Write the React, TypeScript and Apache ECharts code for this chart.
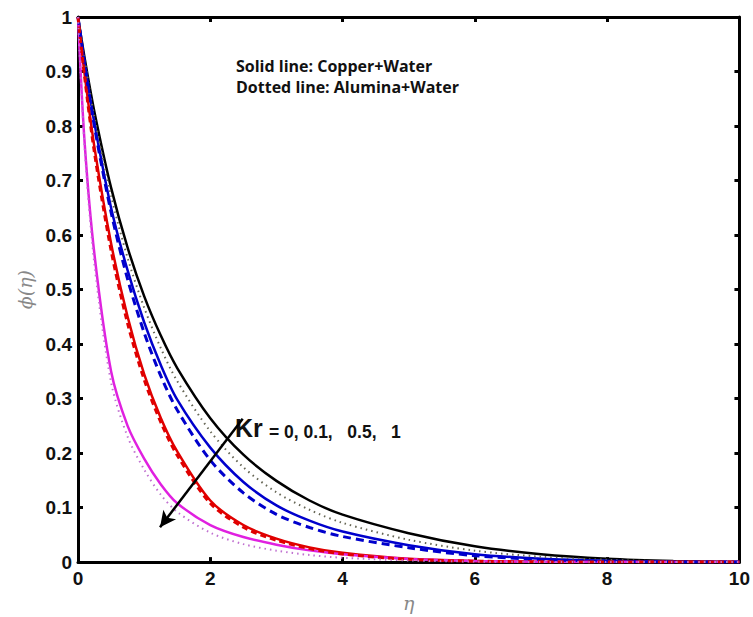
import React, { useEffect, useRef } from "react";
import * as echarts from "echarts";

const eta = [0, 0.1, 0.25, 0.5, 0.75, 1, 1.25, 1.5, 2, 2.5, 3, 3.5, 4, 5, 6, 7, 8, 9, 10];

const cuKr0 = [1, 0.925, 0.825, 0.687, 0.577, 0.488, 0.416, 0.356, 0.264, 0.197, 0.149, 0.113, 0.087, 0.053, 0.029, 0.0144, 0.0062, 0.002, 0];
const alKr0 = [1, 0.922, 0.815, 0.672, 0.558, 0.467, 0.393, 0.332, 0.24, 0.174, 0.128, 0.096, 0.072, 0.041, 0.021, 0.0098, 0.0042, 0.0013, 0];
const cuKr01 = [1, 0.916, 0.804, 0.65, 0.535, 0.44, 0.362, 0.298, 0.21, 0.147, 0.104, 0.076, 0.056, 0.031, 0.0145, 0.0062, 0.0023, 0.0006, 0];
const alKr01 = [1, 0.914, 0.798, 0.642, 0.519, 0.421, 0.342, 0.279, 0.187, 0.127, 0.0875, 0.0635, 0.047, 0.0263, 0.0118, 0.0048, 0.0016, 0.0004, 0];
const cuKr05 = [1, 0.895, 0.76, 0.585, 0.45, 0.345, 0.265, 0.203, 0.113, 0.068, 0.043, 0.027, 0.017, 0.006, 0.002, 0.0007, 0.0002, 0, 0];
const alKr05 = [1, 0.89, 0.75, 0.572, 0.438, 0.335, 0.257, 0.196, 0.108, 0.064, 0.04, 0.025, 0.015, 0.005, 0.0017, 0.0005, 0.0001, 0, 0];
const cuKr1 = [1, 0.77, 0.563, 0.35, 0.25, 0.19, 0.143, 0.108, 0.068, 0.046, 0.032, 0.0215, 0.0145, 0.0059, 0.0022, 0.0007, 0.0002, 0, 0];
const alKr1 = [1, 0.76, 0.545, 0.33, 0.23, 0.17, 0.124, 0.092, 0.054, 0.033, 0.021, 0.013, 0.008, 0.003, 0.001, 0.0003, 0, 0, 0];

const arrowFrom = [2.49, 0.263];
const arrowTo = [1.24, 0.064];

const pairs = (v: number[]) => eta.map((e, i) => [e, v[i]]);

export default function App() {
  const ref = useRef<HTMLDivElement>(null);
  useEffect(() => {
    if (!ref.current) return;
    const chart = echarts.init(ref.current, null, { renderer: "svg" });
    const labelStyle = {
      color: "#111",
      fontFamily: "Liberation Sans, Arial, sans-serif",
      fontWeight: "bold" as const,
      fontSize: 19,
    };
    const axisLine = { show: true, onZero: false, lineStyle: { color: "#000", width: 3 } };
    const axisTick = { show: true, inside: true, length: 5, lineStyle: { color: "#000", width: 3 } };
    const mk = (name: string, data: number[], color: string, type: any, width: number, extra: any = {}) => ({
      name,
      type: "line",
      data: pairs(data),
      smooth: 0.3,
      symbol: "none",
      lineStyle: { color, width, type },
      ...extra,
    });
    const nb = "\u00a0";
    chart.setOption({
      animation: false,
      grid: { left: 78, right: 13, top: 17, bottom: 49, containLabel: false },
      xAxis: [
        {
          type: "value",
          min: 0,
          max: 10,
          interval: 2,
          position: "bottom",
          axisLine,
          axisTick,
          splitLine: { show: false },
          axisLabel: { ...labelStyle, margin: 7 },
          name: "η",
          nameLocation: "middle",
          nameGap: 26,
          nameTextStyle: { color: "#888", fontFamily: "DejaVu Serif, serif", fontStyle: "italic", fontSize: 19 },
        },
        {
          type: "value",
          min: 0,
          max: 10,
          interval: 2,
          position: "top",
          axisLine,
          axisTick,
          axisLabel: { show: false },
          splitLine: { show: false },
        },
      ],
      yAxis: [
        {
          type: "value",
          min: 0,
          max: 1,
          interval: 0.1,
          position: "left",
          axisLine,
          axisTick,
          splitLine: { show: false },
          axisLabel: { ...labelStyle, margin: 6 },
          name: "ϕ(η)",
          nameLocation: "middle",
          nameGap: 44,
          nameTextStyle: { color: "#888", fontFamily: "DejaVu Serif, serif", fontStyle: "italic", fontSize: 19 },
        },
        {
          type: "value",
          min: 0,
          max: 1,
          interval: 0.1,
          position: "right",
          axisLine,
          axisTick,
          axisLabel: { show: false },
          splitLine: { show: false },
        },
      ],
      series: [
        mk("Cu Kr=0", cuKr0, "#000000", "solid", 2.5, {
          markLine: {
            silent: true,
            symbol: ["none", "arrow"],
            symbolSize: [12, 16],
            label: { show: false },
            lineStyle: { color: "#000", width: 2.5, type: "solid" },
            data: [[{ coord: arrowFrom }, { coord: arrowTo }]],
          },
        }),
        mk("Cu Kr=0.1", cuKr01, "#0000cc", "solid", 2.5),
        mk("Cu Kr=0.5", cuKr05, "#e00000", "solid", 2.5),
        mk("Cu Kr=1", cuKr1, "#e020e0", "solid", 2.5),
        mk("Al Kr=0", alKr0, "#666655", [1.5, 4], 2),
        mk("Al Kr=0.1", alKr01, "#0000cc", [8, 5], 3),
        mk("Al Kr=0.5", alKr05, "#e00000", [6, 4], 3),
        mk("Al Kr=1", alKr1, "#c070d0", [1.5, 4], 2),
      ],
      graphic: [
        {
          type: "text",
          left: 236,
          top: 58,
          style: {
            text: "Solid line: Copper+Water",
            fontFamily: "Open Sans, sans-serif",
            fontWeight: "bold",
            fontSize: 16,
            fill: "#111",
          },
        },
        {
          type: "text",
          left: 236,
          top: 79,
          style: {
            text: "Dotted line: Alumina+Water",
            fontFamily: "Open Sans, sans-serif",
            fontWeight: "bold",
            fontSize: 16,
            fill: "#111",
          },
        },
        {
          type: "text",
          left: 235,
          top: 415,
          style: {
            text: "Kr",
            fontFamily: "Liberation Sans, Arial, sans-serif",
            fontWeight: "bold",
            fontSize: 25,
            fill: "#111",
          },
        },
        {
          type: "text",
          left: 269,
          top: 423,
          style: {
            text: `=${nb}0,${nb}0.1,${nb}${nb}${nb}0.5,${nb}${nb}${nb}1`,
            fontFamily: "Liberation Sans, Arial, sans-serif",
            fontWeight: "bold",
            fontSize: 17.5,
            fill: "#111",
          },
        },
      ],
    });
    return () => chart.dispose();
  }, []);
  return <div ref={ref} style={{ width: 753, height: 617, position: "absolute", left: 0, top: 0, background: "#fff" }} />;
}
